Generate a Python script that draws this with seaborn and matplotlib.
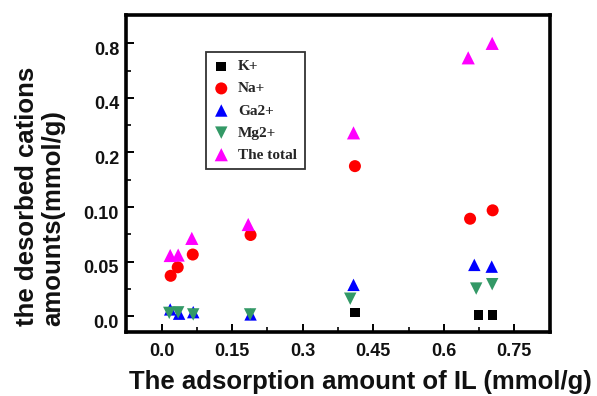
import numpy as np
import pandas as pd
import matplotlib
matplotlib.use("Agg")
import matplotlib.pyplot as plt
import matplotlib.transforms as mtransforms
import seaborn as sns

# ---- data ----
x_k = [0.411, 0.674, 0.704]
y_k = [0.0032, 0.0013, 0.0013]

x_na = [0.019, 0.034, 0.066, 0.189, 0.411, 0.656, 0.704]
y_na = [0.037, 0.0448, 0.0565, 0.0744, 0.175, 0.0893, 0.097]

x_ga = [0.018, 0.037, 0.067, 0.189, 0.408, 0.665, 0.702]
y_ga = [0.0062, 0.0023, 0.0037, 0.0016, 0.0287, 0.047, 0.0454]

x_mg = [0.016, 0.035, 0.067, 0.188, 0.401, 0.669, 0.703]
y_mg = [0.003, 0.0035, 0.0016, 0.0016, 0.016, 0.0253, 0.0293]

x_tot = [0.018, 0.035, 0.064, 0.184, 0.408, 0.652, 0.703]
y_tot = [0.0556, 0.056, 0.0713, 0.084, 0.272, 0.694, 0.80]

x_ticks = [0.0, 0.15, 0.3, 0.45, 0.6, 0.75]
x_ticklabels = ["0.0", "0.15", "0.3", "0.45", "0.6", "0.75"]
y_ticks = [0.0, 0.05, 0.10, 0.2, 0.4, 0.8]
y_ticklabels = ["0.0", "0.05", "0.10", "0.2", "0.4", "0.8"]

series = ["K+", "Na+", "Ga2+", "Mg2+", "The total"]

# ---- piecewise y scale (evenly spaced ticks) ----
YK = np.array(y_ticks)
IDX = np.arange(len(YK), dtype=float)

def fwd(v):
    v = np.asarray(v, dtype=float)
    out = np.interp(v, YK, IDX)
    out = np.where(v < YK[0], (v - YK[0]) / (YK[1] - YK[0]), out)
    out = np.where(v > YK[-1], IDX[-1] + (v - YK[-1]) / (YK[-1] - YK[-2]), out)
    return out

def inv(i):
    i = np.asarray(i, dtype=float)
    out = np.interp(i, IDX, YK)
    out = np.where(i < IDX[0], YK[0] + i * (YK[1] - YK[0]), out)
    out = np.where(i > IDX[-1], YK[-1] + (i - IDX[-1]) * (YK[-1] - YK[-2]), out)
    return out

sns.set_theme(style="white")
plt.rcParams["font.family"] = ["Liberation Sans", "DejaVu Sans"]

fig = plt.figure(figsize=(5.97, 3.96), dpi=100)
ax = fig.add_axes([126/597, 1-332/396, (550-126)/597, (332-15)/396])
ax.set_yscale("function", functions=(fwd, inv))

frames = {
    "K+": (x_k, y_k),
    "Na+": (x_na, y_na),
    "Ga2+": (x_ga, y_ga),
    "Mg2+": (x_mg, y_mg),
    "The total": (x_tot, y_tot),
}
styles = {
    "K+": dict(marker="s", color="#000000", s=48),
    "Na+": dict(marker="o", color="#ff0000", s=75),
    "Ga2+": dict(marker="^", color="#0000ff", s=80),
    "Mg2+": dict(marker="v", color="#339966", s=80),
    "The total": dict(marker="^", color="#ff00ff", s=90),
}
for name in series:
    xs, ys = frames[name]
    df = pd.DataFrame({"x": xs, "y": ys})
    st = styles[name]
    sns.scatterplot(data=df, x="x", y="y", ax=ax, marker=st["marker"],
                    color=st["color"], s=st["s"], edgecolor="none",
                    linewidth=0, label=name, zorder=3)

ax.set_xlim(-0.076, 0.826)
ax.set_ylim(inv(-0.29), inv(5.52))
ax.set_xticks(x_ticks)
ax.set_xticklabels(x_ticklabels)
ax.set_xticks([0.075, 0.225, 0.375, 0.525, 0.675], minor=True)
ax.set_yticks(y_ticks)
ax.set_yticklabels(y_ticklabels)
ax.set_yticks(list(inv([0.5, 1.5, 2.5, 3.5, 4.5])), minor=True)
ax.set_xlabel("")
ax.set_ylabel("")

for sp in ax.spines.values():
    sp.set_linewidth(2.6)
    sp.set_color("black")

ax.tick_params(axis="both", which="major", direction="in", length=6, width=1.4,
               color="black", labelsize=13, labelcolor="#111111")
ax.tick_params(axis="both", which="minor", direction="in", length=3.5, width=1.2,
               color="black")
ax.tick_params(axis="x", which="both", bottom=True, top=False, pad=8)
ax.tick_params(axis="y", which="both", left=True, right=False, pad=5)
for lab in ax.get_xticklabels() + ax.get_yticklabels():
    lab.set_fontweight("bold")
off = mtransforms.ScaledTranslation(0, -5/100, fig.dpi_scale_trans)
for lab in ax.get_yticklabels():
    lab.set_transform(lab.get_transform() + off)

leg = ax.legend(loc="upper left", bbox_to_anchor=(206/597, 1-52/396),
                bbox_transform=fig.transFigure, frameon=True, fancybox=False,
                prop={"family": "Liberation Serif", "weight": "bold", "size": 11},
                handletextpad=0.6, labelspacing=0.55, borderpad=0.5,
                handlelength=1.0, borderaxespad=0)
leg.get_frame().set_edgecolor("black")
leg.get_frame().set_linewidth(1.3)

fig.text(40/597, 1-196/396, "the desorbed cations\namounts(mmol/g)", rotation=90,
         ha="center", va="center", multialignment="left", fontsize=18.5,
         fontweight="bold", color="#111111", linespacing=1.15)
fig.text(360/597, 1-389/396, "The adsorption amount of IL (mmol/g)", ha="center",
         va="baseline", fontsize=18.5, fontweight="bold", color="#111111")

fig.savefig("out.png", dpi=100)
